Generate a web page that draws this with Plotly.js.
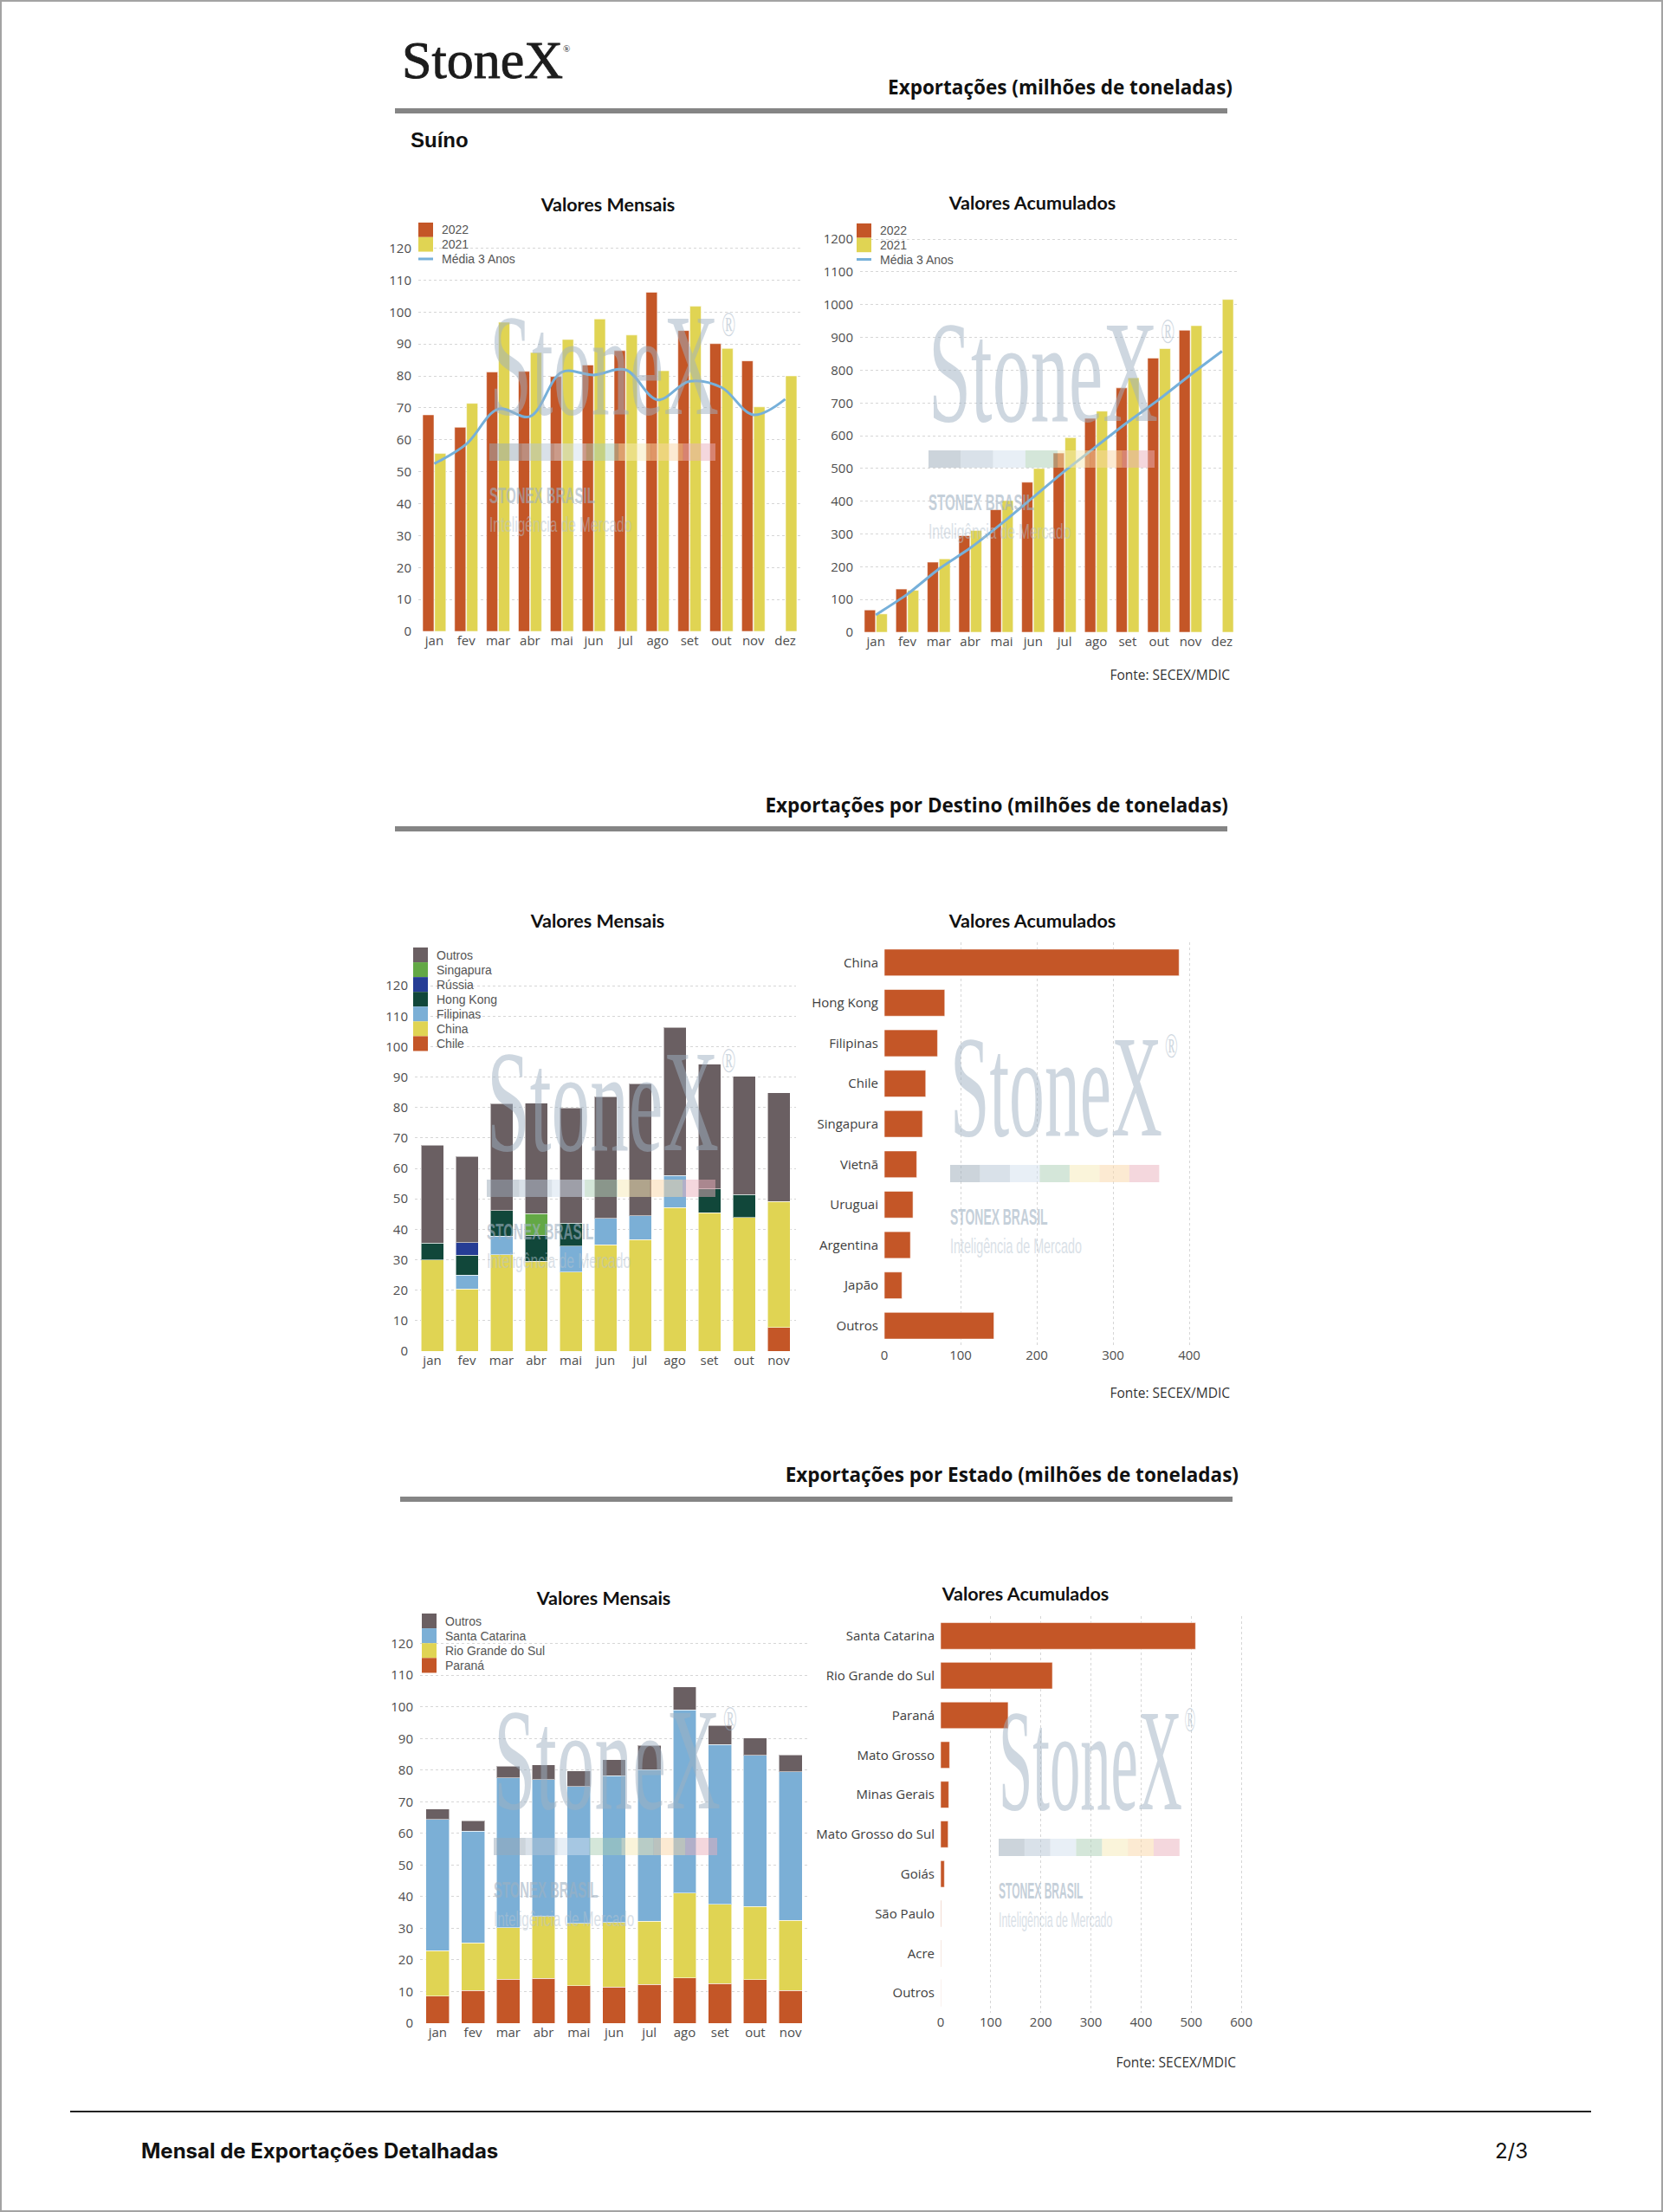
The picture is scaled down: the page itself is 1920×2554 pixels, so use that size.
<!DOCTYPE html>
<html><head><meta charset="utf-8">
<script src="https://cdn.plot.ly/plotly-3.0.1.min.js"></script>
<style>
html,body{margin:0;padding:0;background:#fff;}
#page{position:relative;width:1920px;height:2554px;overflow:hidden;background:#fff;}
.chart{position:absolute;}
#overlay{position:absolute;left:0;top:0;z-index:10;pointer-events:none;}
</style></head><body><div id="page">
<div id="c1" class="chart"></div>
<div id="c2" class="chart"></div>
<div id="c3" class="chart"></div>
<div id="c4" class="chart"></div>
<div id="c5" class="chart"></div>
<div id="c6" class="chart"></div>
<svg id="overlay" width="1920" height="2554" xmlns="http://www.w3.org/2000/svg"></svg>
</div>
<script>
// ---------------- DATA ----------------
const months = ['jan','fev','mar','abr','mai','jun','jul','ago','set','out','nov','dez'];
const monthsDestino = ['jan','fev','mar','abr','mai','jun','jul','ago','set','out','nov'];

const suinoMensal2022 = [67.8, 63.9, 81.2, 81.4, 79.8, 83.4, 87.9, 106.2, 94.2, 90.1, 84.7, null];
const suinoMensal2021 = [55.7, 71.4, 96.8, 87.3, 91.4, 97.8, 92.8, 81.6, 101.8, 88.6, 70.3, 80.0];
const suinoMensalMedia = [52.5, 58.6, 69.6, 67.3, 81.2, 80.3, 81.9, 72.5, 78.3, 76.4, 67.8, 72.7];

const suinoAcum2022 = [68, 132, 214, 295, 374, 458, 547, 653, 746, 837, 922, null];
const suinoAcum2021 = [56, 128, 224, 311, 402, 500, 594, 675, 777, 866, 936, 1016];
const suinoAcumMedia = [53, 116, 193, 257, 332, 412, 492, 567, 641, 711, 786, 858];

const destChile     = [null, null, null, null, null, null, null, null, null, null, 7.8];
const destChina     = [29.9, 20.4, 31.7, 29.5, 26.0, 34.9, 36.6, 47.2, 45.4, 43.9, 41.4];
const destFilipinas = [null, 4.6, 6.1, null, 8.5, 8.7, 7.8, 10.5, null, null, null];
const destHongKong  = [5.6, 6.5, 8.3, 8.5, 7.6, null, null, null, 7.8, 7.5, null];
const destRussia    = [null, 4.1, null, null, null, null, null, null, null, null, null];
const destSingapura = [null, null, null, 7.2, null, null, null, null, null, null, null];
const destOutros    = [32.1, 28.3, 35.2, 36.3, 37.7, 39.9, 43.4, 48.6, 41.1, 38.8, 35.7];

const destinos = ['China','Hong Kong','Filipinas','Chile','Singapura','Vietnã','Uruguai','Argentina','Japão','Outros'];
const destinoAcum = [386.7, 79.3, 69.8, 54.3, 50.1, 42.5, 37.6, 34.2, 23.1, 143.8];

const estParana = [8.6, 10.3, 13.9, 14.2, 11.9, 11.4, 12.2, 14.3, 12.5, 13.7, 10.3];
const estRS     = [14.3, 15.1, 16.3, 19.5, 19.6, 20.4, 20.0, 26.9, 25.1, 23.2, 22.2];
const estSC     = [41.5, 35.3, 47.3, 43.3, 43.3, 46.5, 47.9, 57.8, 50.5, 47.8, 47.0];
const estOutros = [3.3, 3.3, 3.8, 4.6, 5.0, 5.0, 7.7, 7.3, 6.0, 5.4, 5.3];

const estados = ['Santa Catarina','Rio Grande do Sul','Paraná','Mato Grosso','Minas Gerais','Mato Grosso do Sul','Goiás','São Paulo','Acre','Outros'];
const estadoAcum = [508.7, 223.1, 134.7, 17.9, 16.2, 15.0, 7.5, 1.0, 0.6, 0.3];

const ticksMensal = [0,10,20,30,40,50,60,70,80,90,100,110,120];
const ticksAcum = [0,100,200,300,400,500,600,700,800,900,1000,1100,1200];
const ticksDestAcum = [0,100,200,300,400];
const ticksEstAcum = [0,100,200,300,400,500,600];

// ---------------- STYLE ----------------
const COL = {orange:'#c45627', yellow:'#e0d453', blue:'#76b0da', lightblue:'#7bafd6',
  darkgreen:'#11473a', navy:'#263d95', green:'#63a845', gray:'#6a5f62'};
const barLine = {color:'rgba(255,255,255,0.55)', width:1};
const tickFont = {family:'Open Sans', size:15, color:'#4d4d4d'};
const catFont = {family:'Open Sans', size:15, color:'#3d3d3d'};
const gridC = '#d6d6d6';

function build(c, traces, extra) {
  const pad = {l: c.padL || 120, r: 30, t: 100, b: 60};
  const div = document.getElementById(c.id);
  const W = Math.round(c.R - c.L + pad.l + pad.r), H = Math.round(c.B - c.T + pad.t + pad.b);
  c.divL = c.L - pad.l; c.divT = c.T - pad.t;
  div.style.left = c.divL + 'px'; div.style.top = c.divT + 'px';
  div.style.width = W + 'px'; div.style.height = H + 'px';
  const mr = W - pad.l - (c.R - c.L), mb = H - pad.t - (c.B - c.T);
  const layout = Object.assign({
    width: W, height: H,
    margin: {l: pad.l, r: mr, t: pad.t, b: mb, pad: 0},
    paper_bgcolor: 'rgba(0,0,0,0)', plot_bgcolor: 'rgba(0,0,0,0)',
    showlegend: false,
    title: {text: '<b>' + c.title + '</b>', xref: 'container', yref: 'container',
      x: (c.tx - c.divL) / W, y: 1 - (c.ty - c.divT) / H, xanchor: 'center', yanchor: 'middle',
      font: {family: 'Lato', size: 21.5, color: '#111'}},
    shapes: [], annotations: []
  }, extra);
  if (c.legend) addLegend(c, layout);
  Plotly.newPlot(div, traces, layout, {staticPlot: true, displayModeBar: false});
}
function px(c, X) { return (X - c.L) / (c.R - c.L); }
function py(c, Y) { return (c.B - Y) / (c.B - c.T); }
function addLegend(c, layout) {
  const lg = c.legend;
  lg.items.forEach((it, i) => {
    const top = lg.top + i * lg.h, bot = top + lg.h;
    if (it.type === 'line') {
      const ym = py(c, top + lg.h / 2);
      layout.shapes.push({type: 'line', xref: 'paper', yref: 'paper', x0: px(c, lg.x), x1: px(c, lg.x + 17),
        y0: ym, y1: ym, line: {color: it.color, width: 3}});
    } else {
      layout.shapes.push({type: 'rect', xref: 'paper', yref: 'paper', x0: px(c, lg.x), x1: px(c, lg.x + 17),
        y0: py(c, bot), y1: py(c, top), fillcolor: it.color, line: {width: 0}});
    }
    layout.annotations.push({xref: 'paper', yref: 'paper', x: px(c, lg.tx), y: py(c, top + lg.h / 2),
      xanchor: 'left', yanchor: 'middle', showarrow: false, text: it.name, borderpad: 0,
      font: {family: 'Liberation Sans, Arial', size: 14, color: '#555'}});
  });
}
function vAxisY(range, tickvals) {
  return {range: range, tickmode: 'array', tickvals: tickvals, showgrid: true, gridcolor: gridC, griddash: 'dot',
    gridwidth: 1, zeroline: false, showline: false, ticks: '', tickfont: tickFont, ticklabelstandoff: 7};
}
function catAxisX(n) {
  return {type: 'category', range: [-0.5, n - 0.5], showgrid: false, zeroline: false, showline: false,
    ticks: '', tickfont: tickFont};
}

// ---------------- CHART 1 ----------------
const C1 = {id: 'c1', L: 483, R: 925, T: 256.6, B: 729, title: 'Valores Mensais', tx: 702, ty: 236,
  legend: {x: 483, tx: 509, top: 256.6, h: 16.8, items: [
    {name: '2022', color: COL.orange}, {name: '2021', color: COL.yellow}, {name: 'Média 3 Anos', color: COL.blue, type: 'line'}]}};
build(C1, [
  {type: 'bar', x: months, y: suinoMensal2022, name: '2022', marker: {color: COL.orange, line: barLine}},
  {type: 'bar', x: months, y: suinoMensal2021, name: '2021', marker: {color: COL.yellow, line: barLine}},
  {type: 'scatter', mode: 'lines', x: months, y: suinoMensalMedia, name: 'Média 3 Anos',
    line: {color: COL.blue, width: 3, shape: 'spline', smoothing: 1}}
], {barmode: 'group', bargap: 0.25, bargroupgap: 0.06, xaxis: catAxisX(12), yaxis: vAxisY([0, 128], ticksMensal)});

// ---------------- CHART 2 ----------------
const C2 = {id: 'c2', L: 993, R: 1429, T: 258, B: 730, title: 'Valores Acumulados', tx: 1192, ty: 234,
  legend: {x: 989, tx: 1015, top: 258, h: 16.6, items: [
    {name: '2022', color: COL.orange}, {name: '2021', color: COL.yellow}, {name: 'Média 3 Anos', color: COL.blue, type: 'line'}]}};
build(C2, [
  {type: 'bar', x: months, y: suinoAcum2022, name: '2022', marker: {color: COL.orange, line: barLine}},
  {type: 'bar', x: months, y: suinoAcum2021, name: '2021', marker: {color: COL.yellow, line: barLine}},
  {type: 'scatter', mode: 'lines', x: months, y: suinoAcumMedia, name: 'Média 3 Anos',
    line: {color: COL.blue, width: 3, shape: 'spline', smoothing: 0.6}}
], {barmode: 'group', bargap: 0.25, bargroupgap: 0.06, xaxis: catAxisX(12), yaxis: vAxisY([0, 1248], ticksAcum)});

// ---------------- CHART 3 ----------------
const destSeries = [
  {name: 'Chile', y: destChile, color: COL.orange},
  {name: 'China', y: destChina, color: COL.yellow},
  {name: 'Filipinas', y: destFilipinas, color: COL.lightblue},
  {name: 'Hong Kong', y: destHongKong, color: COL.darkgreen},
  {name: 'Rússia', y: destRussia, color: COL.navy},
  {name: 'Singapura', y: destSingapura, color: COL.green},
  {name: 'Outros', y: destOutros, color: COL.gray}
];
const C3 = {id: 'c3', L: 479, R: 919, T: 1096, B: 1560, title: 'Valores Mensais', tx: 690, ty: 1063,
  legend: {x: 477, tx: 503, top: 1094, h: 17.07, items: destSeries.slice().reverse().map(s => ({name: s.name, color: s.color}))}};
build(C3, destSeries.map(s => ({type: 'bar', x: monthsDestino, y: s.y, name: s.name, marker: {color: s.color, line: barLine}})),
  {barmode: 'stack', bargap: 0.35, xaxis: catAxisX(11), yaxis: vAxisY([0, 132], ticksMensal)});

// ---------------- CHART 4 ----------------
function hAxes(xr, xt, n) {
  return {
    xaxis: {range: xr, tickmode: 'array', tickvals: xt, showgrid: true, gridcolor: gridC, griddash: 'dot', zeroline: false,
      showline: false, ticks: '', tickfont: tickFont},
    yaxis: {type: 'category', range: [n - 0.5, -0.5], showgrid: false, zeroline: false, showline: false, ticks: '',
      tickfont: catFont, ticklabelstandoff: 6}
  };
}
const C4 = {id: 'c4', L: 1021, R: 1439, T: 1088, B: 1554, title: 'Valores Acumulados', tx: 1192, ty: 1063, padL: 160};
build(C4, [{type: 'bar', orientation: 'h', y: destinos, x: destinoAcum, marker: {color: COL.orange, line: barLine}}],
  Object.assign({bargap: 0.34}, hAxes([0, 475], ticksDestAcum, 10)));

// ---------------- CHART 5 ----------------
const estSeries = [
  {name: 'Paraná', y: estParana, color: COL.orange},
  {name: 'Rio Grande do Sul', y: estRS, color: COL.yellow},
  {name: 'Santa Catarina', y: estSC, color: COL.lightblue},
  {name: 'Outros', y: estOutros, color: COL.gray}
];
const C5 = {id: 'c5', L: 485, R: 933, T: 1863, B: 2335.7, title: 'Valores Mensais', tx: 697, ty: 1845,
  legend: {x: 487, tx: 513, top: 1863, h: 17.1, items: estSeries.slice().reverse().map(s => ({name: s.name, color: s.color}))}};
build(C5, estSeries.map(s => ({type: 'bar', x: monthsDestino, y: s.y, name: s.name, marker: {color: s.color, line: barLine}})),
  {barmode: 'stack', bargap: 0.34, xaxis: catAxisX(11), yaxis: vAxisY([0, 129.5], ticksMensal)});

// ---------------- CHART 6 ----------------
const C6 = {id: 'c6', L: 1086, R: 1436, T: 1866, B: 2324, title: 'Valores Acumulados', tx: 1184, ty: 1840, padL: 240};
build(C6, [{type: 'bar', orientation: 'h', y: estados, x: estadoAcum, marker: {color: COL.orange, line: barLine}}],
  Object.assign({bargap: 0.33}, hAxes([0, 605], ticksEstAcum, 10)));

// ---------------- STATIC PAGE ELEMENTS (SVG overlay) ----------------
const svg = document.getElementById('overlay');
const NS = 'http://www.w3.org/2000/svg';
function el(tag, attrs, text, parent) {
  const e = document.createElementNS(NS, tag);
  for (const k in attrs) e.setAttribute(k, attrs[k]);
  if (text !== undefined) e.textContent = text;
  (parent || svg).appendChild(e);
  return e;
}
// text squeezed horizontally to a given width with a transform (keeps its real box narrow)
function squeezed(parent, x, y, w, attrs, str) {
  const t = el('text', Object.assign({x: 0, y: 0}, attrs), str, parent);
  const nat = t.getComputedTextLength() || 1;
  t.setAttribute('transform', 'translate(' + x + ',' + y + ') scale(' + (w / nat) + ',1)');
  return t;
}
el('rect', {x: 1, y: 1, width: 1918, height: 2552, fill: 'none', stroke: '#a3a3a3', 'stroke-width': 2});
// logo
const logo = el('text', {x: 464, y: 90, 'font-family': 'Liberation Serif, serif', fill: '#1c1c1c', stroke: '#1c1c1c', 'stroke-width': 0.9});
el('tspan', {'font-size': 62}, 'StoneX', logo);
el('tspan', {'font-size': 11, dy: -30, 'stroke-width': 0}, '®', logo);
// section headers
const hdrFont = {'font-family': 'Open Sans, sans-serif', 'font-size': 22.5, 'font-weight': 'bold', fill: '#111', 'text-anchor': 'end'};
el('text', Object.assign({x: 1423, y: 109}, hdrFont), 'Exportações (milhões de toneladas)');
el('rect', {x: 456, y: 125, width: 961, height: 6, fill: '#858585'});
el('text', {x: 474, y: 170, 'font-family': 'Liberation Sans, Arial', 'font-size': 24, 'font-weight': 'bold', fill: '#111'}, 'Suíno');
el('text', Object.assign({x: 1418, y: 938}, hdrFont), 'Exportações por Destino (milhões de toneladas)');
el('rect', {x: 456, y: 954, width: 961, height: 6, fill: '#858585'});
el('text', Object.assign({x: 1430, y: 1711}, hdrFont), 'Exportações por Estado (milhões de toneladas)');
el('rect', {x: 462, y: 1728, width: 961, height: 6, fill: '#858585'});
// sources
const srcFont = {'font-family': 'Open Sans, sans-serif', 'font-size': 15.5, fill: '#333', 'text-anchor': 'end'};
el('text', Object.assign({x: 1420, y: 785}, srcFont), 'Fonte: SECEX/MDIC');
el('text', Object.assign({x: 1420, y: 1614}, srcFont), 'Fonte: SECEX/MDIC');
el('text', Object.assign({x: 1427, y: 2387}, srcFont), 'Fonte: SECEX/MDIC');
// footer
el('line', {x1: 81, y1: 2438, x2: 1837, y2: 2438, stroke: '#222', 'stroke-width': 2});
el('text', {x: 163, y: 2492, 'font-family': 'Inter, sans-serif', 'font-size': 24, 'font-weight': 'bold', fill: '#111'}, 'Mensal de Exportações Detalhadas');
el('text', {x: 1764, y: 2492, 'font-family': 'Inter, sans-serif', 'font-size': 24, fill: '#111', 'text-anchor': 'end'}, '2/3');

// watermarks
const stripColors = ['#9aa9b8', '#b3c4d4', '#d2e0ee', '#a9cdb3', '#f5eab5', '#f9d5a6', '#eab0bb'];
function watermark(x0, y0, w) {
  const g = el('g', {});
  // "StoneX" + small registered mark, one text element squeezed to width w
  const t = el('text', {x: 0, y: 0, 'font-family': 'Liberation Serif, serif', fill: '#9fb1c2', opacity: 0.5}, undefined, g);
  const main = el('tspan', {'font-size': 168}, 'StoneX', t);
  el('tspan', {'font-size': 40, dx: 6, dy: -90}, '®', t);
  const sx = w / (main.getComputedTextLength() || 1);
  t.setAttribute('transform', 'translate(' + x0 + ',' + (y0 + 114) + ') scale(' + sx + ',1)');
  const sw = w * 0.985 / 7;
  stripColors.forEach((col, i) => el('rect', {x: x0 + i * sw, y: y0 + 148, width: sw, height: 20, fill: col, opacity: 0.5}, undefined, g));
  squeezed(g, x0, y0 + 217, w * 0.46, {'font-family': 'Liberation Sans, Arial', 'font-size': 25, 'font-weight': 'bold', fill: '#9fb1c2', opacity: 0.6}, 'STONEX BRASIL');
  squeezed(g, x0, y0 + 250, w * 0.62, {'font-family': 'Liberation Sans, Arial', 'font-size': 24, fill: '#b5c3d0', opacity: 0.5}, 'Inteligência de Mercado');
}
watermark(565, 364, 265);
watermark(1072, 372, 265);
watermark(562, 1214, 268);
watermark(1097, 1197, 245);
watermark(570, 1974, 262);
watermark(1153, 1975, 212);
</script>
</body></html>
